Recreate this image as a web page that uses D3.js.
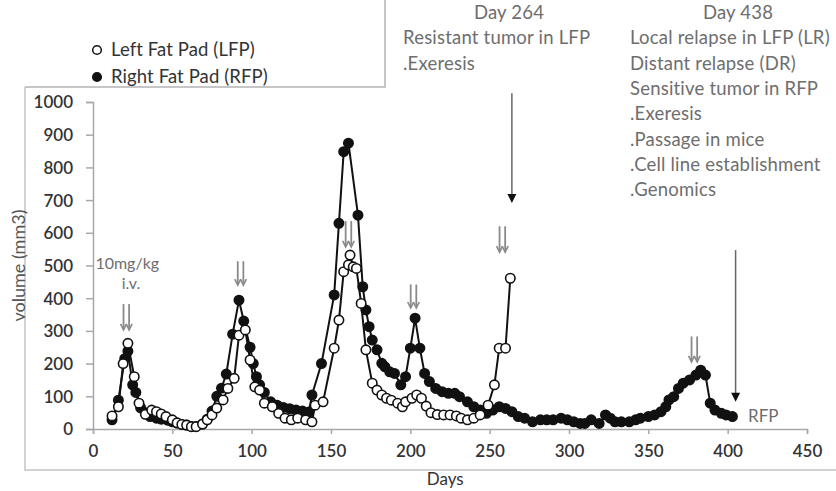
<!DOCTYPE html>
<html><head><meta charset="utf-8">
<script src="https://cdn.jsdelivr.net/npm/d3@7"></script>
<style>
html,body{margin:0;padding:0;background:#fff;}
svg{display:block;font-family:Lato,"Open Sans",sans-serif;}
</style></head>
<body><svg id="chart" width="836" height="491"></svg>
<script>
// ---------- data ----------
const rfpDays = [12,16,20,22,25,27,30,33,36,40,43,47,50,53,56,59,62,65,69,72,75,78,81,84,88,92,95,99,101,103,105,108,112,116,120,124,128,132,136,138,144,152,155,158,161,167,170,172,174,176,179,182,184,187,190,194,197,200,203,206,209,212,216,220,224,228,231,236,240,244,248,252,256,260,264,268,272,277,282,286,290,295,299,303,307,310,314,319,323,326,329,333,338,342,345,350,354,358,361,363,366,369,372,376,380,383,386,389,392,396,399,403];
const rfpVals = [28,88,215,238,135,112,65,50,38,33,30,27,22,18,14,12,8,8,15,30,55,100,125,168,290,394,330,250,200,160,135,112,83,73,66,62,58,55,52,104,200,410,629,848,874,654,435,364,313,272,242,201,190,175,170,135,160,247,339,247,170,145,124,114,109,109,99,83,68,58,48,58,68,63,53,38,33,22,28,28,28,33,28,22,17,17,28,17,43,33,22,22,22,28,33,38,43,53,68,89,99,124,140,150,165,180,165,79,58,48,43,38];
const lfpDays = [12,16,19,22,26,29,33,37,40,43,46,50,53,56,59,62,65,69,72,75,78,82,85,89,92,96,99,102,105,108,113,117,121,125,129,134,138,140,145,152,155,158,161,162,164,166,169,172,176,179,182,185,188,192,195,197,201,204,207,210,213,217,221,225,229,232,236,240,244,249,253,256,260,263];
const lfpVals = [40,68,200,262,160,79,45,58,53,46,38,28,19,14,12,7,7,15,28,43,64,89,124,155,287,303,211,129,119,79,68,48,33,28,33,28,22,73,83,247,333,481,502,532,496,491,384,242,140,119,104,94,88,79,68,83,94,104,94,70,50,44,43,43,40,33,28,33,43,73,135,247,247,461];
const xTicks = [0,50,100,150,200,250,300,350,400,450];
const yTicks = [0,100,200,300,400,500,600,700,800,900,1000];
const seriesNames = ["Left Fat Pad (LFP)","Right Fat Pad (RFP)"];
// treatment double arrows: day, top value, bottom value
const dblArrowDays = [21,93,161,202,258,379];
const dblArrowTop = [382,513,636,442,620,283];
const dblArrowBot = [303,440,557,370,541,205];
// long event arrows
const eventDays = [264,405];
const eventTop = [1027,547];
const eventBot = [691,83];
const note264 = ["Day 264","Resistant tumor in LFP",".Exeresis"];
const note438 = ["Day 438","Local relapse in LFP (LR)","Distant relapse (DR)","Sensitive tumor in RFP",".Exeresis",".Passage in mice",".Cell line establishment",".Genomics"];

// ---------- chart ----------
const svg = d3.select("#chart");
const x = d3.scaleLinear().domain([0,450]).range([93,807]);
const y = d3.scaleLinear().domain([0,1000]).range([429,102]);
const axisCol = "#a8a8a8", txtGray = "#6e6e6e", txtDark = "#333";

// frames
svg.append("path").attr("d","M25,87 L25,470 L836,470").attr("fill","none").attr("stroke","#c4c4c4").attr("stroke-width",1.5);
svg.append("path").attr("d","M25,87 L385,87 L385,0").attr("fill","none").attr("stroke","#b4b4b4").attr("stroke-width",1.5);

// axes
const yAxis = svg.append("g").attr("transform",`translate(${x(0)},0)`)
  .call(d3.axisLeft(y).tickValues(yTicks).tickFormat(d3.format("d")).tickSize(7).tickPadding(13));
const xAxis = svg.append("g").attr("transform",`translate(0,${y(0)})`)
  .call(d3.axisBottom(x).tickValues(xTicks).tickFormat(d3.format("d")).tickSize(5).tickPadding(11));
[yAxis,xAxis].forEach(g=>{
  g.select(".domain").attr("stroke",axisCol).attr("stroke-width",1.5);
  g.selectAll(".tick line").attr("stroke",axisCol).attr("stroke-width",1.5);
  g.selectAll(".tick text").attr("fill",txtDark).attr("font-size",17).attr("font-weight",600).attr("font-family","Lato");
});
yAxis.selectAll(".tick text").attr("dy","0.35em");

svg.append("text").attr("transform",`translate(19,${(y(0)+y(1000))/2}) rotate(-90)`)
  .attr("text-anchor","middle").attr("font-size",18).attr("fill","#555").attr("dy","0.35em").text("volume (mm3)");
svg.append("text").attr("x",x(222)).attr("y",485).attr("text-anchor","middle")
  .attr("font-size",17).attr("fill",txtDark).text("Days");

// data
const rfp = rfpDays.map((d,i)=>[d,rfpVals[i]]);
const lfp = lfpDays.map((d,i)=>[d,lfpVals[i]]);
const line = d3.line().x(d=>x(d[0])).y(d=>y(d[1]));
function drawSeries(data, filled){
  svg.append("path").datum(data).attr("d",line).attr("fill","none").attr("stroke","#111").attr("stroke-width",2);
  svg.append("g").selectAll("circle").data(data).join("circle")
    .attr("cx",d=>x(d[0])).attr("cy",d=>y(d[1])).attr("r",4.7)
    .attr("fill",filled?"#111":"#fff").attr("stroke","#111").attr("stroke-width",1.6);
}
drawSeries(rfp,true);
drawSeries(lfp,false);

// double arrows (grey)
dblArrowDays.forEach((d,i)=>{
  const g = svg.append("g");
  [-2.8,2.8].forEach(off=>{
    const cx = x(d)+off, yt = y(dblArrowTop[i]), yb = y(dblArrowBot[i]);
    g.append("line").attr("x1",cx).attr("x2",cx).attr("y1",yt).attr("y2",yb-1)
      .attr("stroke","#8a8a8a").attr("stroke-width",1.8);
    g.append("path").attr("d",`M${cx-3},${yb-6} L${cx},${yb} L${cx+3},${yb-6}`)
      .attr("fill","none").attr("stroke","#8a8a8a").attr("stroke-width",1.6);
  });
});
// event arrows
eventDays.forEach((d,i)=>{
  const cx = x(d), yt = y(eventTop[i]), yb = y(eventBot[i]);
  svg.append("line").attr("x1",cx).attr("x2",cx).attr("y1",yt).attr("y2",yb-8)
    .attr("stroke","#666").attr("stroke-width",1.5);
  svg.append("path").attr("d",`M${cx-4.5},${yb-9} L${cx+4.5},${yb-9} L${cx},${yb} Z`).attr("fill","#111");
});

// legend
const leg = svg.append("g");
seriesNames.forEach((n,i)=>{
  leg.append("circle").attr("cx",97).attr("cy",50+i*27).attr("r",4.3)
    .attr("fill",i?"#111":"#fff").attr("stroke","#111").attr("stroke-width",1.5);
  leg.append("text").attr("x",111).attr("y",50+i*27).attr("dy","0.35em").attr("font-size",18.5)
    .attr("letter-spacing",0.1).attr("fill",txtDark).text(n);
});

// notes
function note(lines, cx, lx){
  lines.forEach((t,i)=>{
    svg.append("text").attr("x",i===0?cx:lx).attr("y",19+i*25.3)
      .attr("text-anchor",i===0?"middle":"start").attr("font-size",18.5).attr("letter-spacing",0.2)
      .attr("fill",txtGray).text(t);
  });
}
note(note264, 509, 403);
note(note438, 738, 630);

svg.append("text").attr("x",x(1.5)).attr("y",269).attr("font-size",16).attr("fill",txtGray).text("10mg/kg");
svg.append("text").attr("x",x(24)).attr("y",289).attr("text-anchor","middle").attr("font-size",16).attr("fill",txtGray).text("i.v.");
svg.append("text").attr("x",748).attr("y",422).attr("font-size",17).attr("fill",txtGray).text("RFP");
</script></body></html>
